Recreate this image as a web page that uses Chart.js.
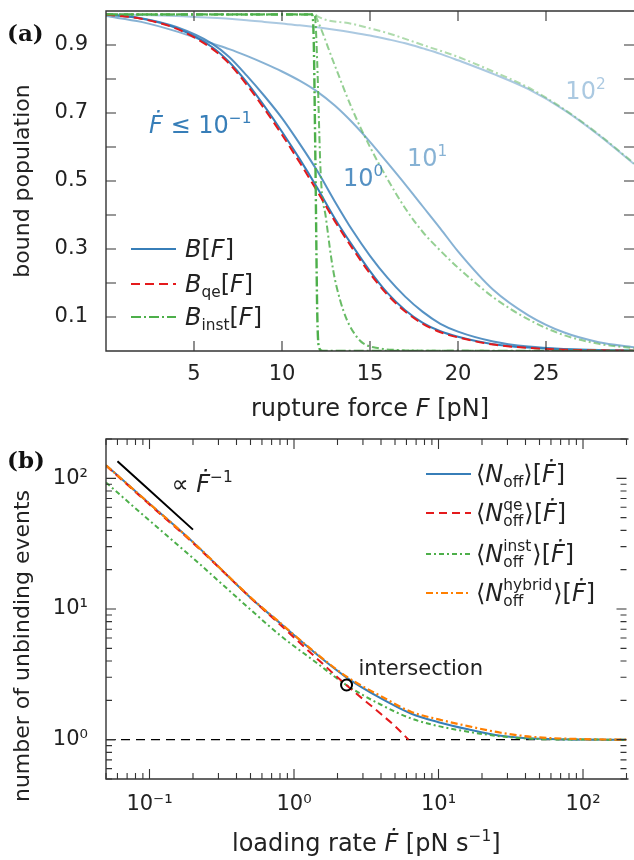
<!DOCTYPE html>
<html>
<head>
<meta charset="utf-8">
<script src="https://cdn.jsdelivr.net/npm/chart.js@4.4.1/dist/chart.umd.min.js"></script>
<style>
  body { margin: 0; background: #fff; width: 634px; height: 860px; overflow: hidden; }
  canvas { display: block; }
</style>
</head>
<body>
<canvas id="chartA" width="634" height="425"></canvas>
<canvas id="chartB" width="634" height="435"></canvas>
<script>
// ---------- panel (a): bound population vs rupture force ----------
const forceTicks = [5, 10, 15, 20, 25];
const boundTicks = [0.1, 0.2, 0.3, 0.4, 0.5, 0.6, 0.7, 0.8, 0.9];
const boundLabels = ['0.1', '', '0.3', '', '0.5', '', '0.7', '', '0.9'];

const forceGrid    = [0, 2, 4, 6, 7, 8, 9, 10, 11, 12, 13, 14, 15, 16, 17, 18, 19, 20, 22, 24, 26, 28, 30];
const boundSlow    = [0.99, 0.978, 0.95, 0.895, 0.85, 0.79, 0.72, 0.645, 0.565, 0.48, 0.39, 0.31, 0.235, 0.17, 0.12, 0.083, 0.058, 0.042, 0.02, 0.01, 0.005, 0.002, 0.001];
const boundQe      = [0.99, 0.977, 0.948, 0.89, 0.845, 0.783, 0.712, 0.636, 0.555, 0.47, 0.382, 0.302, 0.228, 0.165, 0.116, 0.08, 0.055, 0.04, 0.019, 0.009, 0.004, 0.002, 0.001];
const boundRate1   = [0.99, 0.979, 0.953, 0.905, 0.865, 0.81, 0.75, 0.685, 0.61, 0.53, 0.44, 0.355, 0.28, 0.215, 0.16, 0.115, 0.08, 0.057, 0.028, 0.013, 0.006, 0.003, 0.001];
const boundRate10  = [0.985, 0.968, 0.94, 0.905, 0.888, 0.868, 0.846, 0.822, 0.795, 0.763, 0.722, 0.672, 0.615, 0.553, 0.49, 0.425, 0.36, 0.293, 0.18, 0.105, 0.055, 0.026, 0.011];
const boundRate100 = [0.99, 0.988, 0.985, 0.98, 0.977, 0.973, 0.968, 0.963, 0.958, 0.952, 0.945, 0.937, 0.928, 0.917, 0.905, 0.89, 0.874, 0.855, 0.815, 0.77, 0.71, 0.635, 0.55];

// instantaneous approximation, one per loading rate
const instSlowForce = [0, 11.7, 11.8, 11.9, 12.0, 12.1, 12.3, 30];
const instSlow      = [0.99, 0.99, 0.92, 0.55, 0.12, 0.01, 0, 0];
const inst1Force    = [0, 11.8, 11.9, 12.0, 12.2, 12.5, 12.9, 13.3, 13.7, 14.2, 14.6, 15.5, 16.5, 18, 30];
const inst1         = [0.99, 0.99, 0.97, 0.85, 0.52, 0.39, 0.24, 0.15, 0.09, 0.045, 0.023, 0.008, 0.003, 0.001, 0];
const inst10Force   = [0, 11.85, 12, 13, 14, 15, 16, 17, 18, 19, 20, 21, 22, 24, 26, 28, 30];
const inst10        = [0.99, 0.99, 0.975, 0.84, 0.71, 0.6, 0.505, 0.42, 0.35, 0.295, 0.245, 0.2, 0.158, 0.093, 0.047, 0.021, 0.008];
const inst100Force  = [0, 11.9, 12, 14, 16, 18, 20, 22, 24, 26, 28, 30];
const inst100       = [0.99, 0.99, 0.985, 0.962, 0.935, 0.9, 0.865, 0.822, 0.775, 0.712, 0.637, 0.552];

// ---------- panel (b): number of unbinding events vs loading rate ----------
const rateTicks  = [0.05, 0.06, 0.07, 0.08, 0.09, 0.1, 0.2, 0.3, 0.4, 0.5, 0.6, 0.7, 0.8, 0.9, 1, 2, 3, 4, 5, 6, 7, 8, 9, 10, 20, 30, 40, 50, 60, 70, 80, 90, 100, 200];
const eventTicks = [0.5, 0.6, 0.7, 0.8, 0.9, 1, 2, 3, 4, 5, 6, 7, 8, 9, 10, 20, 30, 40, 50, 60, 70, 80, 90, 100, 200];
const powerLabels = { '0.1': '10⁻¹', '1': '10⁰', '10': '10¹', '100': '10²' };

const rateGrid     = [0.05, 0.1, 0.2, 0.5, 0.8, 1.4, 2.3, 4, 6.5, 10, 16, 27, 45, 100, 200];
const eventsFull   = [126, 64, 32.5, 12.2, 7.8, 4.6, 3.0, 2.07, 1.58, 1.36, 1.2, 1.07, 1.02, 1.003, 1.0];
const eventsInst   = [93, 47.5, 24.5, 9.9, 6.3, 3.95, 2.62, 1.85, 1.45, 1.27, 1.15, 1.06, 1.015, 1.002, 1.0];
const eventsHybrid = [126, 64, 32.5, 12.3, 7.85, 4.65, 3.05, 2.15, 1.63, 1.43, 1.27, 1.13, 1.05, 1.01, 1.0];
const qeRates      = [0.05, 0.1, 0.2, 0.5, 0.8, 1.4, 2.3, 4, 5, 6.2];
const eventsQe     = [125, 63, 32, 12.2, 7.6, 4.3, 2.62, 1.57, 1.27, 1.0];

const slopeRate = [0.06, 0.2];
const slopeEvents = [135, 40.5];
const unitRate = [0.05, 200];
const unitEvents = [1, 1];
const crossRate = [2.31];
const crossEvents = [2.62];

// ---------- helpers ----------
const FAMILY = '"DejaVu Sans"';
const INK = '#222';

function pts(xs, ys) {
    return xs.map((x, i) => ({ x: x, y: ys[i] }));
}

function line(data, color, width, dash, order) {
    return {
        data: data,
        borderColor: color,
        borderWidth: width,
        borderDash: dash,
        pointRadius: 0,
        fill: false,
        order: order
    };
}

// text with italic parts, sub/superscripts; returns the width
function drawRich(ctx, x, y, parts, size, color, measureOnly) {
    ctx.fillStyle = color;
    ctx.textAlign = 'left';
    ctx.textBaseline = 'alphabetic';
    let cx = x;
    parts.forEach(([text, kind]) => {
        if (kind === 'subsup') {
            ctx.font = (size * 0.64) + 'px ' + FAMILY;
            if (!measureOnly) {
                ctx.fillText(text[0], cx, y - size * 0.45);
                ctx.fillText(text[1], cx, y + size * 0.22);
            }
            cx += Math.max(ctx.measureText(text[0]).width, ctx.measureText(text[1]).width) + 1;
            return;
        }
        let s = size, dy = 0, style = '';
        if (kind === 'sub') { s = size * 0.64; dy = size * 0.22; }
        if (kind === 'sup') { s = size * 0.64; dy = -size * 0.42; }
        if (kind === 'i') style = 'italic ';
        ctx.font = style + s + 'px ' + FAMILY;
        if (!measureOnly) ctx.fillText(text, cx, y + dy);
        cx += ctx.measureText(text).width;
    });
    return cx - x;
}

const isPower = v => Math.abs(Math.log10(v) - Math.round(Math.log10(v))) < 1e-9;

// no extra room for tick labels at the ends of the axes
function fitY(width) {
    return s => { s.width = width; s.paddingTop = 0; s.paddingBottom = 0; };
}
function fitX(height) {
    return s => { s.height = height; s.paddingLeft = 0; s.paddingRight = 0; };
}

// frame and inward ticks on all sides
function frameTicks(logAxes) {
    return {
        id: 'frameTicks',
        afterDatasetsDraw(chart) {
            const { ctx, chartArea: a, scales } = chart;
            ctx.save();
            ctx.strokeStyle = '#333';
            ctx.lineWidth = 1.4;
            ctx.beginPath();
            ctx.moveTo(a.right + 2, a.top);
            ctx.lineTo(a.left, a.top);
            ctx.lineTo(a.left, a.bottom);
            ctx.lineTo(a.right + 2, a.bottom);
            ctx.stroke();
            ctx.lineWidth = 1.1;
            ctx.beginPath();
            scales.x.ticks.forEach(t => {
                const p = scales.x.getPixelForValue(t.value);
                const len = (!logAxes || isPower(t.value)) ? 10 : 6;
                ctx.moveTo(p, a.bottom); ctx.lineTo(p, a.bottom - len);
                ctx.moveTo(p, a.top); ctx.lineTo(p, a.top + len);
            });
            scales.y.ticks.forEach(t => {
                const p = scales.y.getPixelForValue(t.value);
                const len = (!logAxes || isPower(t.value)) ? 10 : 6;
                ctx.moveTo(a.left, p); ctx.lineTo(a.left + len, p);
                ctx.moveTo(a.right, p); ctx.lineTo(a.right - len, p);
            });
            ctx.stroke();
            ctx.restore();
        }
    };
}

// annotations (data coords), hand drawn legend (relative to plot area), axis titles
function notesPlugin(notes, legend, panel) {
    return {
        id: 'notes',
        afterDraw(chart) {
            const { ctx, chartArea: a, scales } = chart;
            ctx.save();
            notes.forEach(n => {
                drawRich(ctx, scales.x.getPixelForValue(n.x), scales.y.getPixelForValue(n.y), n.parts, n.size, n.color);
            });
            legend.rows.forEach(r => {
                const y = a.top + r.dy;
                ctx.strokeStyle = r.color;
                ctx.lineWidth = 2;
                ctx.setLineDash(r.dash);
                ctx.beginPath();
                ctx.moveTo(a.left + legend.x0, y);
                ctx.lineTo(a.left + legend.x1, y);
                ctx.stroke();
                ctx.setLineDash([]);
                drawRich(ctx, a.left + legend.tx, y + 8, r.parts, 24, INK);
            });
            // x title, centred under the plot
            const w = drawRich(ctx, 0, 0, panel.xTitle, 24, INK, true);
            drawRich(ctx, (a.left + a.right) / 2 - w / 2, panel.xTitleY, panel.xTitle, 24, INK);
            if (panel.yTitle) {
                ctx.save();
                ctx.translate(panel.yTitle.x, panel.yTitle.y);
                ctx.rotate(-Math.PI / 2);
                ctx.font = '22px ' + FAMILY;
                ctx.fillStyle = INK;
                ctx.textAlign = 'center';
                ctx.textBaseline = 'middle';
                ctx.fillText(panel.yTitle.text, 0, 0);
                ctx.restore();
            }
            ctx.font = 'bold 23px "DejaVu Serif"';
            ctx.fillStyle = '#111';
            ctx.textAlign = 'left';
            ctx.textBaseline = 'alphabetic';
            ctx.fillText(panel.text, 7, panel.y);
            ctx.restore();
        }
    };
}

const tickFont = { family: FAMILY, size: 21 };

// ---------- chart (a) ----------
const blue = 'rgba(55,126,184,';
const green = 'rgba(77,175,74,';

new Chart(document.getElementById('chartA'), {
    type: 'line',
    data: {
        datasets: [
            line(pts(instSlowForce, instSlow), '#4daf4a', 2.4, [10, 3, 2, 3], 0),
            line(pts(forceGrid, boundQe), '#e41a1c', 2, [9, 5], 1),
            line(pts(inst1Force, inst1), green + '0.85)', 2, [7, 3, 2, 3], 2),
            line(pts(inst10Force, inst10), green + '0.6)', 2, [7, 3, 2, 3], 3),
            line(pts(inst100Force, inst100), green + '0.45)', 2, [7, 3, 2, 3], 4),
            line(pts(forceGrid, boundSlow), blue + '1)', 2, [], 5),
            line(pts(forceGrid, boundRate1), blue + '0.85)', 2, [], 6),
            line(pts(forceGrid, boundRate10), blue + '0.6)', 2, [], 7),
            line(pts(forceGrid, boundRate100), blue + '0.42)', 2, [], 8)
        ]
    },
    options: {
        responsive: false,
        animation: false,
        layout: { padding: { top: 11, left: 0, right: 0, bottom: 0 } },
        elements: { line: { cubicInterpolationMode: 'monotone' } },
        plugins: { legend: { display: false }, tooltip: { enabled: false } },
        scales: {
            x: {
                type: 'linear', min: 0, max: 30,
                grid: { display: false, drawTicks: false },
                border: { display: false },
                afterBuildTicks: s => { s.ticks = forceTicks.map(v => ({ value: v })); },
                afterFit: fitX(74),
                ticks: { autoSkip: false, maxRotation: 0, padding: 11, color: INK, font: tickFont,
                         callback: v => String(v) },
                title: { display: false }
            },
            y: {
                type: 'linear', min: 0, max: 1,
                grid: { display: false, drawTicks: false },
                border: { display: false },
                afterBuildTicks: s => { s.ticks = boundTicks.map(v => ({ value: v })); },
                afterFit: fitY(106),
                ticks: { autoSkip: false, padding: 18, color: INK, font: tickFont,
                         callback: (v, i) => boundLabels[i] },
                title: { display: true, text: 'bound population', color: INK,
                         font: { family: FAMILY, size: 22 }, padding: { top: 10, bottom: 0 } }
            }
        }
    },
    plugins: [
        frameTicks(false),
        notesPlugin(
            [
                { x: 2.45, y: 0.64, size: 24, color: blue + '1)', parts: [['Ḟ', 'i'], [' ≤ 10', ''], ['−1', 'sup']] },
                { x: 13.47, y: 0.485, size: 24, color: blue + '0.85)', parts: [['10', ''], ['0', 'sup']] },
                { x: 17.1, y: 0.545, size: 24, color: blue + '0.6)', parts: [['10', ''], ['1', 'sup']] },
                { x: 26.1, y: 0.74, size: 24, color: blue + '0.42)', parts: [['10', ''], ['2', 'sup']] }
            ],
            {
                x0: 25, x1: 70, tx: 79,
                rows: [
                    { dy: 238, color: '#377eb8', dash: [], parts: [['B', 'i'], ['[', ''], ['F', 'i'], [']', '']] },
                    { dy: 273, color: '#e41a1c', dash: [9, 5], parts: [['B', 'i'], ['qe', 'sub'], ['[', ''], ['F', 'i'], [']', '']] },
                    { dy: 306, color: '#4daf4a', dash: [10, 3, 2, 3], parts: [['B', 'i'], ['inst', 'sub'], ['[', ''], ['F', 'i'], [']', '']] }
                ]
            },
            { text: '(a)', y: 41, xTitleY: 416,
              xTitle: [['rupture force ', ''], ['F', 'i'], [' [pN]', '']] }
        )
    ]
});

// ---------- chart (b) ----------
new Chart(document.getElementById('chartB'), {
    type: 'line',
    data: {
        datasets: [
            {
                data: pts(crossRate, crossEvents), showLine: false, order: 0,
                pointRadius: 5.5, pointBorderWidth: 2, pointBorderColor: '#000',
                pointBackgroundColor: 'rgba(0,0,0,0)'
            },
            line(pts(rateGrid, eventsHybrid), '#ff7f00', 2.2, [7, 3, 2, 3], 1),
            line(pts(qeRates, eventsQe), '#e41a1c', 2, [8, 5], 2),
            line(pts(rateGrid, eventsInst), '#4daf4a', 2, [5, 3, 2, 3], 3),
            line(pts(rateGrid, eventsFull), '#377eb8', 2, [], 4),
            line(pts(slopeRate, slopeEvents), '#000', 2, [], 5),
            line(pts(unitRate, unitEvents), '#000', 1.2, [9, 6], 6)
        ]
    },
    options: {
        responsive: false,
        animation: false,
        layout: { padding: { top: 14, left: 0, right: 0, bottom: 0 } },
        elements: { line: { cubicInterpolationMode: 'monotone' } },
        plugins: { legend: { display: false }, tooltip: { enabled: false } },
        scales: {
            x: {
                type: 'logarithmic', min: 0.05, max: 200,
                grid: { display: false, drawTicks: false },
                border: { display: false },
                afterBuildTicks: s => { s.ticks = rateTicks.map(v => ({ value: v })); },
                afterFit: fitX(81),
                ticks: { autoSkip: false, maxRotation: 0, padding: 13, color: INK, font: tickFont,
                         callback: v => powerLabels[String(v)] || '' },
                title: { display: false }
            },
            y: {
                type: 'logarithmic', min: 0.5, max: 200,
                grid: { display: false, drawTicks: false },
                border: { display: false },
                afterBuildTicks: s => { s.ticks = eventTicks.map(v => ({ value: v })); },
                afterFit: fitY(106),
                ticks: { autoSkip: false, padding: 18, color: INK, font: tickFont,
                         callback: v => powerLabels[String(v)] || '' },
                title: { display: false }
            }
        }
    },
    plugins: [
        frameTicks(true),
        notesPlugin(
            [
                { x: 0.142, y: 78, size: 24, color: INK, parts: [['∝ ', ''], ['Ḟ', 'i'], ['−1', 'sup']] },
                { x: 2.79, y: 3.15, size: 21, color: INK, parts: [['intersection', '']] }
            ],
            {
                x0: 320, x1: 365, tx: 370,
                rows: [
                    { dy: 35, color: '#377eb8', dash: [], parts: [['⟨', ''], ['N', 'i'], ['off', 'sub'], ['⟩[', ''], ['Ḟ', 'i'], [']', '']] },
                    { dy: 74, color: '#e41a1c', dash: [8, 5], parts: [['⟨', ''], ['N', 'i'], [['qe', 'off'], 'subsup'], ['⟩[', ''], ['Ḟ', 'i'], [']', '']] },
                    { dy: 115, color: '#4daf4a', dash: [5, 3, 2, 3], parts: [['⟨', ''], ['N', 'i'], [['inst', 'off'], 'subsup'], ['⟩[', ''], ['Ḟ', 'i'], [']', '']] },
                    { dy: 154, color: '#ff7f00', dash: [7, 3, 2, 3], parts: [['⟨', ''], ['N', 'i'], [['hybrid', 'off'], 'subsup'], ['⟩[', ''], ['Ḟ', 'i'], [']', '']] }
                ]
            },
            { text: '(b)', y: 43, yTitle: { text: 'number of unbinding events', x: 23, y: 221 },
              xTitleY: 426,
              xTitle: [['loading rate ', ''], ['Ḟ', 'i'], [' [pN s', ''], ['−1', 'sup'], [']', '']] }
        )
    ]
});
</script>
</body>
</html>
